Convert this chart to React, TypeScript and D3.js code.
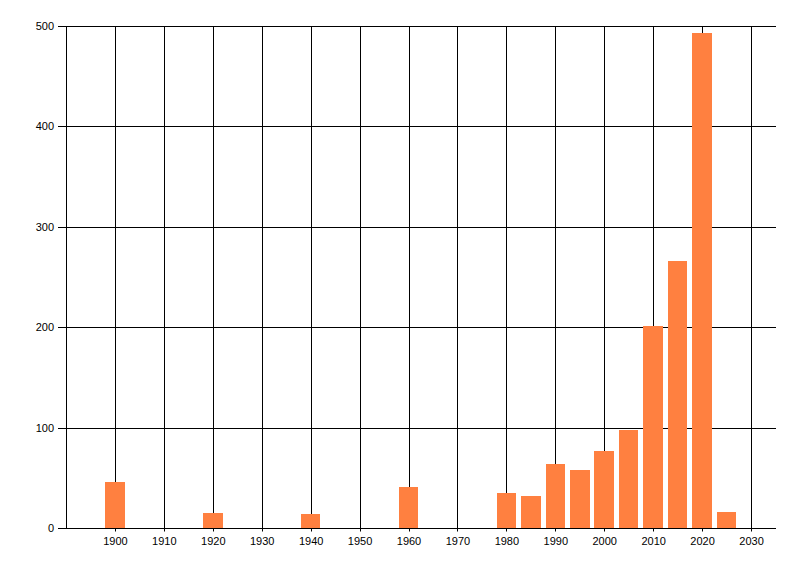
import React from 'react';
import * as d3 from 'd3';

const years = [1900, 1920, 1940, 1960, 1980, 1985, 1990, 1995, 2000, 2005, 2010, 2015, 2020, 2025];
const counts = [46, 15, 14, 41, 35, 32, 64, 58, 77, 98, 202, 266, 494, 16];
const xTicks = [1900, 1910, 1920, 1930, 1940, 1950, 1960, 1970, 1980, 1990, 2000, 2010, 2020, 2030];
const yTicks = [0, 100, 200, 300, 400, 500];

const width = 800;
const height = 576;
const margin = { top: 26.5, right: 24, bottom: 47.5, left: 66.5 };
const barColor = '#ff8040';
const font = '"Liberation Sans", Arial, sans-serif';

const App: React.FC = () => {
  const x = d3.scaleLinear()
    .domain([1890, 2035])
    .range([margin.left, width - margin.right]);

  const y = d3.scaleLinear()
    .domain([0, 500])
    .range([height - margin.bottom, margin.top]);

  const crisp = (v: number) => Math.floor(v) + 0.5;
  const barHalf = 2; // bars span 4 years

  return (
    <svg width={width} height={height} style={{ position: 'absolute', left: 0, top: 0, background: '#fff' }}>
      {/* horizontal grid + y ticks */}
      <g>
        {yTicks.map(t => (
          <g key={t}>
            <line x1={58} x2={x.range()[1]} y1={crisp(y(t))} y2={crisp(y(t))} stroke="#000" />
            <text x={54} y={crisp(y(t))} dy="0.35em" textAnchor="end" fontFamily={font} fontSize={11} fill="#000">
              {t}
            </text>
          </g>
        ))}
      </g>
      {/* vertical grid + x ticks */}
      <g>
        {xTicks.map(t => (
          <g key={t}>
            <line x1={crisp(x(t))} x2={crisp(x(t))} y1={y(500)} y2={y(0) + 3} stroke="#000" />
            <text x={x(t)} y={545} textAnchor="middle" fontFamily={font} fontSize={11} fill="#000">
              {t}
            </text>
          </g>
        ))}
        <line x1={crisp(margin.left)} x2={crisp(margin.left)} y1={y(500)} y2={y(0)} stroke="#000" />
      </g>
      {/* bars */}
      <g>
        {years.map((yr, i) => (
          <rect
            key={yr}
            x={Math.floor(x(yr - barHalf))}
            width={Math.floor(x(yr + barHalf)) - Math.floor(x(yr - barHalf))}
            y={Math.round(y(counts[i]))}
            height={Math.floor(y(0)) - Math.round(y(counts[i]))}
            fill={barColor}
          />
        ))}
      </g>
    </svg>
  );
};

export default App;
